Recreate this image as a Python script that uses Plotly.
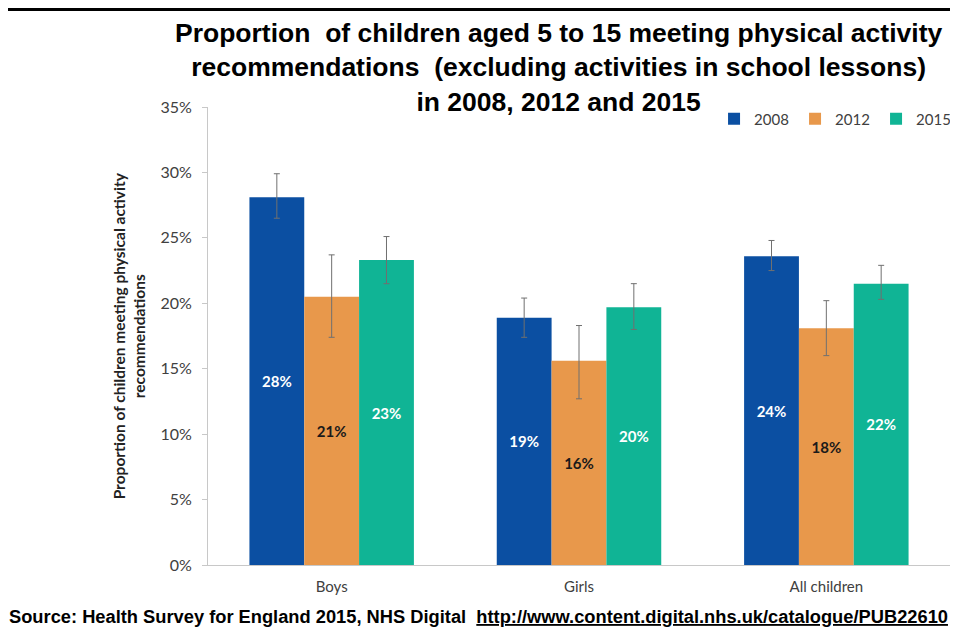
import plotly.graph_objects as go

# %% Data
groups = ["Boys", "Girls", "All children"]
years = ["2008", "2012", "2015"]

pct_2008 = [28.1, 18.9, 23.6]
pct_2012 = [20.5, 15.6, 18.1]
pct_2015 = [23.3, 19.7, 21.5]

# 95% CI
lo_2008 = [26.5, 17.4, 22.5]
hi_2008 = [29.9, 20.4, 24.8]
lo_2012 = [17.4, 12.7, 16.0]
hi_2012 = [23.7, 18.3, 20.2]
lo_2015 = [21.5, 18.0, 20.3]
hi_2015 = [25.1, 21.5, 22.9]

labels_2008 = ["28%", "19%", "24%"]
labels_2012 = ["21%", "16%", "18%"]
labels_2015 = ["23%", "20%", "22%"]

# %% Styling
colors = ["#0B4FA2", "#E8984B", "#10B495"]
label_colors = ["white", "#1a1a1a", "white"]
body_font = "Lato, Open Sans, sans-serif"

series = [
    (pct_2008, lo_2008, hi_2008, labels_2008),
    (pct_2012, lo_2012, hi_2012, labels_2012),
    (pct_2015, lo_2015, hi_2015, labels_2015),
]

fig = go.Figure()
for i, (vals, lo, hi, labs) in enumerate(series):
    y = [v / 100 for v in vals]
    up = [(h - v) / 100 for h, v in zip(hi, vals)]
    down = [(v - l) / 100 for v, l in zip(vals, lo)]
    fig.add_trace(go.Bar(
        x=groups, y=y, name=years[i],
        marker=dict(color=colors[i], line=dict(width=0)),
        text=["<b>%s</b>" % s for s in labs],
        textposition="inside", insidetextanchor="middle",
        textfont=dict(family=body_font, size=15, color=label_colors[i]),
        error_y=dict(type="data", symmetric=False, array=up, arrayminus=down,
                     color="#707070", thickness=1, width=3),
        hoverinfo="skip",
    ))

# page body adds ~8px of margin, so the figure is kept a little smaller than the window
fig.update_layout(
    width=942, height=632,
    barmode="group", bargap=0.335, bargroupgap=0,
    plot_bgcolor="white", paper_bgcolor="white",
    margin=dict(l=200, r=0, t=99, b=75, autoexpand=False),
    font=dict(family=body_font, color="#404040"),
    legend=dict(
        orientation="h", x=0.682, xanchor="left", y=0.974, yanchor="middle",
        font=dict(family=body_font, size=15, color="#404040"),
        bgcolor="rgba(0,0,0,0)", traceorder="normal",
        entrywidth=36, entrywidthmode="pixels",
    ),
    showlegend=True,
)

fig.update_yaxes(
    range=[0, 0.35], dtick=0.05, tickformat=".0%",
    showgrid=False, zeroline=False,
    showline=True, linecolor="#c8c8c8", linewidth=1,
    ticks="outside", tickcolor="#c8c8c8", ticklen=5, ticklabelstandoff=7,
    tickfont=dict(family=body_font, size=16, color="#404040"),
)
fig.update_xaxes(
    showgrid=False, showline=True, linecolor="#c8c8c8", linewidth=1,
    ticks="", ticklabelstandoff=8,
    tickfont=dict(family=body_font, size=15, color="#404040"),
)

# title
fig.add_annotation(
    text="<b>Proportion  of children aged 5 to 15 meeting physical activity<br>"
         "recommendations  (excluding activities in school lessons)<br>"
         "in 2008, 2012 and 2015</b>",
    xref="paper", yref="paper", x=0.473, y=1.0873,
    xanchor="center", yanchor="middle", showarrow=False,
    font=dict(family="Liberation Sans, Arial, sans-serif", size=26.5, color="black"),
)

# y axis title
fig.add_annotation(
    text="<b>Proportion of children meeting physical activity<br>recommendations</b>",
    xref="paper", yref="paper", x=-0.106, y=0.5,
    xanchor="center", yanchor="middle", textangle=-90, showarrow=False,
    font=dict(family=body_font, size=15.5, color="#222222"),
)

# source line
fig.add_annotation(
    text="<b>Source: Health Survey for England 2015, NHS Digital  "
         "<u>http://www.content.digital.nhs.uk/catalogue/PUB22610</u></b>",
    xref="paper", yref="paper", x=0.3652, y=-0.1135,
    xanchor="center", yanchor="middle", showarrow=False,
    font=dict(family="Liberation Sans, Arial, sans-serif", size=18.3, color="black"),
)

# black rule along the top edge
fig.add_shape(type="line", xref="paper", yref="paper",
              x0=-0.3, x1=1.05, y0=1.2129, y1=1.2129,
              line=dict(color="black", width=3))

fig.write_html("out.html")
